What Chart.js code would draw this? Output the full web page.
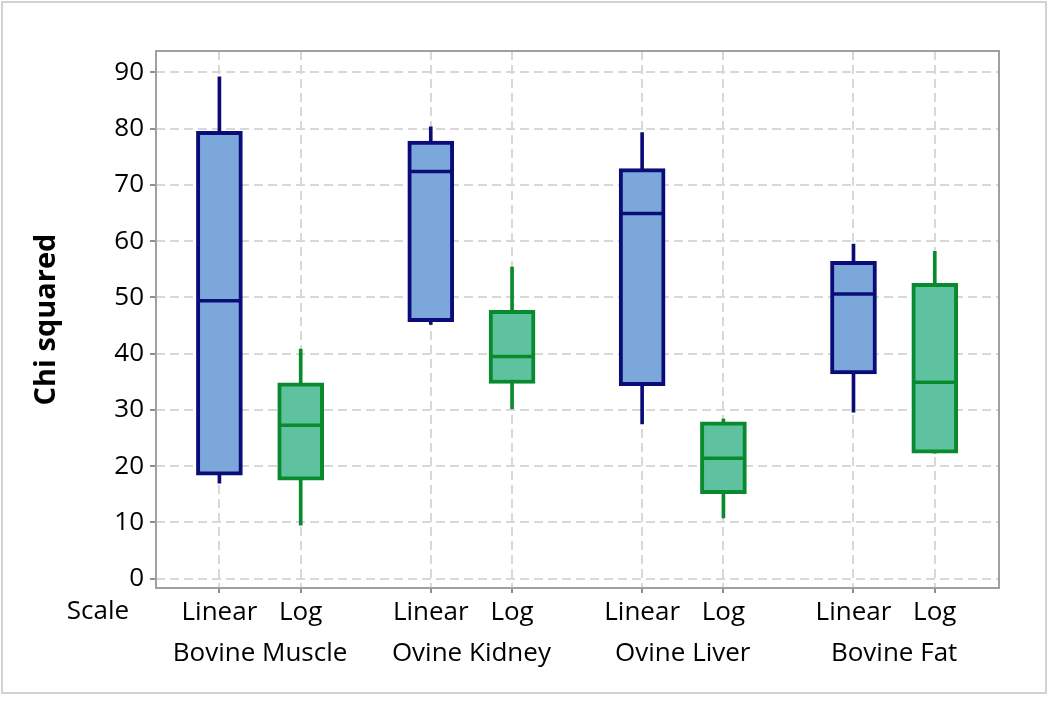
<!doctype html>
<html>

<head>
	<title>Chi squared</title>
	<script src="https://cdn.jsdelivr.net/npm/chart.js@4/dist/chart.umd.min.js"></script>
	<style>
		body {
			margin: 0;
			background: #fff;
			font-family: "Open Sans", sans-serif;
		}

		.holder {
			position: relative;
			width: 1050px;
			height: 701px;
		}

		.frame {
			position: absolute;
			left: 1px;
			top: 1px;
			width: 1042px;
			height: 689px;
			border: 2px solid #d2d2d2;
			pointer-events: none;
		}
	</style>
</head>

<body>
	<div class="holder">
		<canvas id="chart-area" width="1050" height="701"></canvas>
		<div class="frame"></div>
	</div>
	<script>
		// data
		var groups = ['Bovine Muscle', 'Ovine Kidney', 'Ovine Liver', 'Bovine Fat'];
		var scaleNames = ['Linear', 'Log'];

		var linearMin = [17.0, 45.2, 27.5, 29.6];
		var linearQ1 = [18.4, 45.7, 34.3, 36.4];
		var linearMedian = [49.4, 72.4, 64.9, 50.6];
		var linearQ3 = [79.5, 77.8, 72.9, 56.4];
		var linearMax = [89.2, 80.3, 79.3, 59.5];

		var logMin = [9.5, 30.2, 10.8, 22.3];
		var logQ1 = [17.5, 34.7, 15.1, 22.3];
		var logMedian = [27.3, 39.5, 21.4, 34.9];
		var logQ3 = [34.8, 47.7, 27.9, 52.5];
		var logMax = [40.8, 55.4, 28.4, 58.2];

		var yTicks = [0, 10, 20, 30, 40, 50, 60, 70, 80, 90];

		var GROUP_STEP = 2.6;
		function pos(g, s) {
			return g * GROUP_STEP + s;
		}

		var tickPositions = [];
		groups.forEach(function (g, i) {
			scaleNames.forEach(function (n, s) {
				tickPositions.push(pos(i, s));
			});
		});
		var groupCenters = groups.map(function (g, i) { return pos(i, 0.5); });

		var FONT = "'Open Sans', sans-serif";
		var TEXT = '#000';

		function boxDatasets(s, mins, q1s, meds, q3s, maxs, fill, line) {
			return [{
				type: 'bar',
				label: scaleNames[s] + ' whisker',
				data: groups.map(function (g, i) { return { x: pos(i, s), y: [mins[i], maxs[i]] }; }),
				backgroundColor: line,
				borderWidth: 0,
				barThickness: 3,
				grouped: false,
				order: 3
			}, {
				type: 'bar',
				label: scaleNames[s],
				data: groups.map(function (g, i) { return { x: pos(i, s), y: [q1s[i], q3s[i]] }; }),
				backgroundColor: fill,
				borderColor: line,
				borderWidth: 4,
				borderSkipped: false,
				barThickness: 46,
				grouped: false,
				order: 2
			}, {
				type: 'scatter',
				label: scaleNames[s] + ' median',
				data: groups.map(function (g, i) { return { x: pos(i, s), y: meds[i] }; }),
				pointStyle: 'line',
				radius: 21,
				borderColor: line,
				borderWidth: 3.5,
				order: 1
			}];
		}

		var datasets = []
			.concat(boxDatasets(0, linearMin, linearQ1, linearMedian, linearQ3, linearMax, '#7ba7da', '#0c0c78'))
			.concat(boxDatasets(1, logMin, logQ1, logMedian, logQ3, logMax, '#5ec1a0', '#0a8a2e'));

		var plotFrame = {
			id: 'plotFrame',
			beforeDatasetsDraw: function (chart) {
				var a = chart.chartArea, ctx = chart.ctx;
				ctx.save();
				ctx.strokeStyle = '#a0a0a0';
				ctx.lineWidth = 2;
				ctx.strokeRect(a.left, a.top, a.right - a.left, a.bottom - a.top);
				ctx.restore();
			},
			afterDraw: function (chart) {
				var sx = chart.scales.x, ctx = chart.ctx;
				ctx.save();
				ctx.font = '26px ' + FONT;
				ctx.fillStyle = TEXT;
				ctx.textAlign = 'center';
				ctx.textBaseline = 'middle';
				ctx.fillText('Scale', chart.chartArea.left - 58, sx.top + 24);
				ctx.restore();
			}
		};

		var gridBorder = { display: false, dash: [9, 5] };

		var config = {
			type: 'bar',
			data: { datasets: datasets },
			options: {
				responsive: false,
				animation: false,
				events: [],
				layout: { padding: { left: 0, top: 51, right: 51, bottom: 27 } },
				plugins: {
					legend: { display: false },
					tooltip: { enabled: false }
				},
				scales: {
					x: {
						type: 'linear',
						position: 'bottom',
						weight: 0,
						offset: false,
						min: -0.78,
						max: 3 * GROUP_STEP + 1.79,
						afterBuildTicks: function (scale) {
							scale.ticks = tickPositions.map(function (v) { return { value: v }; });
						},
						afterFit: function (scale) { scale.height = 44; },
						grid: {
							offset: false,
							color: '#d8d8d8',
							lineWidth: 2,
							tickLength: 5,
							tickColor: '#909090',
							tickWidth: 2,
							tickBorderDash: []
						},
						border: gridBorder,
						ticks: {
							autoSkip: false,
							maxRotation: 0,
							padding: 4,
							color: TEXT,
							font: { family: FONT, size: 26 },
							callback: function (value, index) { return scaleNames[index % 2]; }
						}
					},
					x2: {
						type: 'linear',
						position: 'bottom',
						weight: 1,
						offset: false,
						min: -0.78,
						max: 3 * GROUP_STEP + 1.79,
						afterBuildTicks: function (scale) {
							scale.ticks = groupCenters.map(function (v) { return { value: v }; });
						},
						afterFit: function (scale) { scale.height = 42; },
						grid: { display: false, drawTicks: false },
						border: { display: false },
						ticks: {
							autoSkip: false,
							maxRotation: 0,
							padding: 6,
							color: TEXT,
							font: { family: FONT, size: 26 },
							callback: function (value, index) { return groups[index]; }
						}
					},
					y: {
						type: 'linear',
						min: -1.65,
						max: 93.8,
						afterBuildTicks: function (scale) {
							var t = [];
							for (var v = 0; v <= 90; v += 5) t.push({ value: v });
							scale.ticks = t;
						},
						afterFit: function (scale) { scale.width = 156; },
						grid: {
							color: '#d8d8d8',
							lineWidth: 2,
							tickLength: 6,
							tickWidth: 2,
							tickBorderDash: [],
							tickColor: function (ctx) {
								return ctx.tick && yTicks.indexOf(ctx.tick.value) >= 0 ? '#909090' : 'rgba(0,0,0,0)';
							}
						},
						border: gridBorder,
						ticks: {
							padding: 6,
							color: TEXT,
							font: { family: FONT, size: 26 },
							callback: function (value) { return yTicks.indexOf(value) >= 0 ? value : ''; }
						},
						title: {
							display: true,
							text: 'Chi squared',
							color: TEXT,
							padding: { top: 29, bottom: 0 },
							font: { family: FONT, size: 29, weight: 'bold' }
						}
					}
				}
			},
			plugins: [plotFrame]
		};

		window.onload = function () {
			var ctx = document.getElementById('chart-area').getContext('2d');
			window.myChart = new Chart(ctx, config);
		};
	</script>
</body>

</html>
